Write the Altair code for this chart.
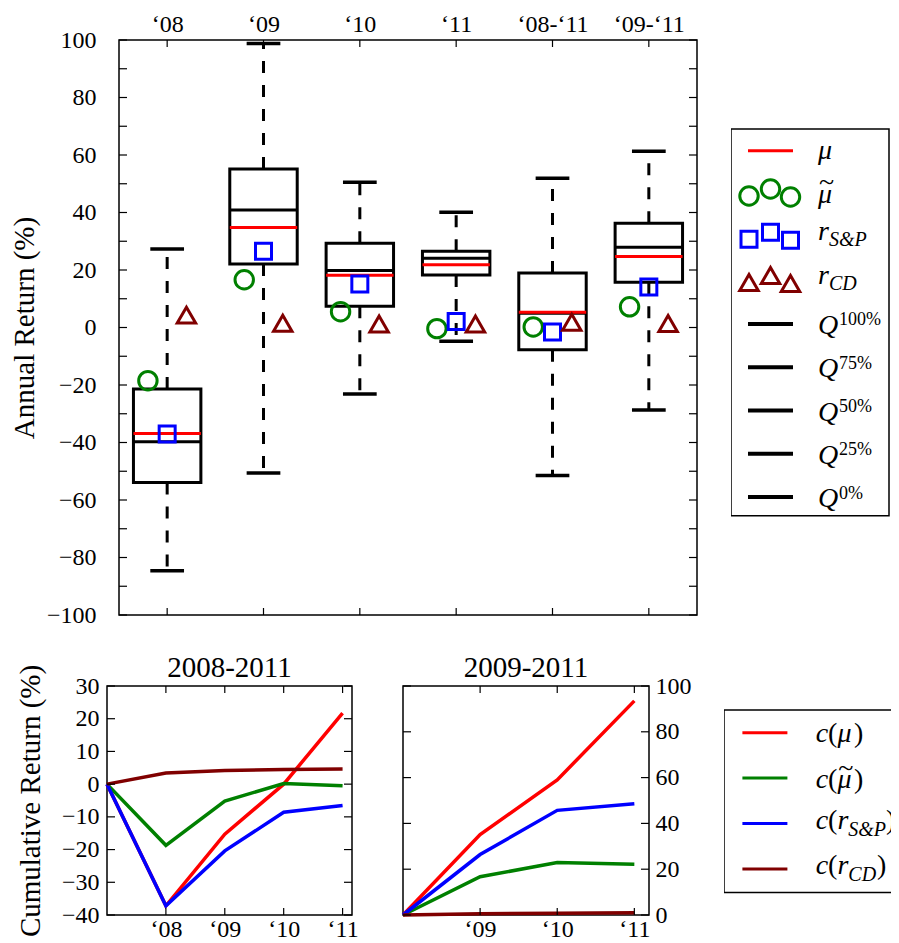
import json
import altair as alt
import pandas as pd

FONT = "Liberation Serif"
TICK_FS = 24
TITLE_FS = 29
LEG_FS = 28
SUB_FS = 20
SUP_FS = 18
RED, GREEN, BLUE, BROWN = "#ff0000", "#008000", "#0000ff", "#800000"

# ---------------- data ----------------
periods = ["‘08", "‘09", "‘10", "‘11", "‘08-‘11", "‘09-‘11"]
q0 = [-84.6, -50.6, -23.1, -4.8, -51.5, -28.7]
q25 = [-53.9, 22.1, 7.4, 18.3, -7.7, 15.7]
q50 = [-39.7, 40.9, 19.8, 24.1, 5.0, 27.9]
q75 = [-21.4, 55.1, 29.3, 26.5, 19.0, 36.3]
q100 = [27.3, 98.8, 50.5, 40.1, 51.9, 61.3]
mean_ret = [-36.9, 34.8, 18.2, 21.8, 5.3, 24.7]
median_ret = [-18.5, 16.6, 5.5, -0.4, 0.2, 7.2]
sp_ret = [-37.0, 26.5, 15.1, 2.1, -1.6, 14.1]
cd_ret = [4.3, 1.5, 1.2, 1.2, 1.8, 1.4]

years_a = ["‘08", "‘09", "‘10", "‘11"]
cum_a_mu = [0, -37.2, -15.3, 0.0, 21.7]
cum_a_med = [0, -18.7, -5.2, 0.2, -0.5]
cum_a_sp = [0, -37.2, -20.4, -8.6, -6.5]
cum_a_cd = [0, 3.4, 4.2, 4.5, 4.6]

years_b = ["‘09", "‘10", "‘11"]
cum_b_mu = [0, 35.1, 59.0, 93.5]
cum_b_med = [0, 16.7, 22.9, 22.2]
cum_b_sp = [0, 26.4, 45.7, 48.6]
cum_b_cd = [0, 0.5, 0.8, 1.0]

# ---------------- main box plot ----------------
MAIN_W, MAIN_H = 590, 575
BOX_PX = 578                      # framed width of the box-plot axes
LEFT_PX = MAIN_W - BOX_PX         # view extends a little left of the frame
n = len(periods)
unit_px = BOX_PX / n
xdom = [0.5 - LEFT_PX / unit_px, n + 0.5]
ydom = [-100, 100]
BOX_W, CAP_W, MOFF = 0.7, 0.35, 0.2
pos = list(range(1, n + 1))

box_df = pd.DataFrame({
    "pos": pos, "q0": q0, "q25": q25, "q50": q50, "q75": q75, "q100": q100,
    "mean": mean_ret, "median": median_ret, "sp": sp_ret, "cd": cd_ret,
})
box_df["box_lo"] = box_df["pos"] - BOX_W / 2
box_df["box_hi"] = box_df["pos"] + BOX_W / 2
box_df["cap_lo"] = box_df["pos"] - CAP_W / 2
box_df["cap_hi"] = box_df["pos"] + CAP_W / 2
box_df["pos_l"] = box_df["pos"] - MOFF
box_df["pos_r"] = box_df["pos"] + MOFF

LBL = dict(labelFont=FONT, labelFontSize=TICK_FS, labelColor="black", labelOverlap=False,
           ticks=False, tickSize=0, domain=False, grid=False)

xs = alt.Scale(domain=xdom, nice=False, zero=False)
ys = alt.Scale(domain=ydom, nice=False, zero=False)
x_axis = alt.Axis(orient="top", values=pos,
                  labelExpr=json.dumps(periods, ensure_ascii=False) + "[datum.value - 1]",
                  labelPadding=4, title="", **LBL)
y_axis = alt.Axis(orient="left", values=list(range(-100, 101, 20)), labelPadding=11,
                  title="Annual Return (%)", titleFont=FONT, titleFontSize=TITLE_FS,
                  titleFontWeight="normal", titleColor="black", titlePadding=7, **LBL)


def MX(f):
    return alt.X(f"{f}:Q", scale=xs, axis=x_axis)


def MY(f):
    return alt.Y(f"{f}:Q", scale=ys, axis=y_axis)


frame_df = pd.DataFrame({"x0": [0.5], "x1": [n + 0.5], "y0": [ydom[0]], "y1": [ydom[1]]})
base = alt.Chart(box_df)
main_layers = [
    alt.Chart(frame_df).mark_rect(fillOpacity=0, stroke="black", strokeWidth=1.5).encode(
        x=MX("x0"), x2="x1", y=MY("y0"), y2="y1"),
    base.mark_rule(color="black", strokeWidth=3, strokeDash=[12, 12]).encode(
        x=MX("pos"), y=MY("q25"), y2="q0"),
    base.mark_rule(color="black", strokeWidth=3, strokeDash=[12, 12]).encode(
        x=MX("pos"), y=MY("q75"), y2="q100"),
    base.mark_rule(color="black", strokeWidth=3.5).encode(x=MX("cap_lo"), x2="cap_hi", y=MY("q0")),
    base.mark_rule(color="black", strokeWidth=3.5).encode(x=MX("cap_lo"), x2="cap_hi", y=MY("q100")),
    base.mark_rect(fillOpacity=0, stroke="black", strokeWidth=3).encode(
        x=MX("box_lo"), x2="box_hi", y=MY("q25"), y2="q75"),
    base.mark_rule(color="black", strokeWidth=3).encode(x=MX("box_lo"), x2="box_hi", y=MY("q50")),
    base.mark_rule(color=RED, strokeWidth=3).encode(x=MX("box_lo"), x2="box_hi", y=MY("mean")),
    base.mark_point(shape="circle", filled=False, size=340, strokeWidth=3, color=GREEN,
                    opacity=1).encode(x=MX("pos_l"), y=MY("median")),
    base.mark_point(shape="square", filled=False, size=256, strokeWidth=3, color=BLUE,
                    opacity=1).encode(x=MX("pos"), y=MY("sp")),
    base.mark_point(shape="triangle-up", filled=False, size=340, strokeWidth=3, color=BROWN,
                    opacity=1).encode(x=MX("pos_r"), y=MY("cd")),
]
ytick_df = pd.DataFrame({"v": list(range(-100, 101, 10))})
TL = 8
main_layers += [
    alt.Chart(ytick_df).mark_rule(color="black", strokeWidth=1.2).encode(
        x=alt.value(LEFT_PX), x2=alt.value(LEFT_PX + TL), y=MY("v")),
    alt.Chart(ytick_df).mark_rule(color="black", strokeWidth=1.2).encode(
        x=alt.value(MAIN_W - TL), x2=alt.value(MAIN_W), y=MY("v")),
    base.mark_rule(color="black", strokeWidth=1.2).encode(
        x=MX("pos"), y=alt.value(0), y2=alt.value(7)),
    base.mark_rule(color="black", strokeWidth=1.2).encode(
        x=MX("pos"), y=alt.value(MAIN_H - 7), y2=alt.value(MAIN_H)),
]
main = alt.layer(*main_layers).properties(width=MAIN_W, height=MAIN_H)


# ---------------- cumulative panels ----------------
SMALL_H = 229


def cum_panel(title, labels, series, ydom_, tick_vals, label_vals, y_orient, width, height,
              xmax, ytitle, label_pad, title_pad):
    xs_ = alt.Scale(domain=[0, xmax], nice=False, zero=False)
    ys_ = alt.Scale(domain=ydom_, nice=False, zero=False)
    xpos = list(range(1, len(labels) + 1))
    xa = alt.Axis(orient="bottom", values=xpos,
                  labelExpr=json.dumps(labels, ensure_ascii=False) + "[datum.value - 1]",
                  labelPadding=2, title="", **LBL)
    ya_kw = dict(orient=y_orient, values=label_vals, labelPadding=label_pad, title=ytitle, **LBL)
    if ytitle:
        ya_kw.update(titleFont=FONT, titleFontSize=TITLE_FS, titleFontWeight="normal",
                     titleColor="black", titlePadding=title_pad)
    ya = alt.Axis(**ya_kw)

    def X(f):
        return alt.X(f"{f}:Q", scale=xs_, axis=xa)

    def Y(f):
        return alt.Y(f"{f}:Q", scale=ys_, axis=ya)

    rows = []
    for name, _, vals in series:
        for i, v in enumerate(vals):
            rows.append({"series": name, "t": i, "v": v})
    df = pd.DataFrame(rows)
    fdf = pd.DataFrame({"x0": [0], "x1": [xmax], "y0": [ydom_[0]], "y1": [ydom_[1]]})
    layers = [alt.Chart(fdf).mark_rect(fillOpacity=0, stroke="black", strokeWidth=1.5).encode(
        x=X("x0"), x2="x1", y=Y("y0"), y2="y1")]
    for name, color, _ in series:
        layers.append(alt.Chart(df).transform_filter(alt.datum.series == name)
                      .mark_line(color=color, strokeWidth=3.5).encode(x=X("t"), y=Y("v")))
    tdf = pd.DataFrame({"v": tick_vals})
    xdf = pd.DataFrame({"t": xpos})
    layers += [
        alt.Chart(tdf).mark_rule(color="black", strokeWidth=1.2).encode(
            x=alt.value(0), x2=alt.value(TL), y=Y("v")),
        alt.Chart(tdf).mark_rule(color="black", strokeWidth=1.2).encode(
            x=alt.value(width - TL), x2=alt.value(width), y=Y("v")),
        alt.Chart(xdf).mark_rule(color="black", strokeWidth=1.2).encode(
            x=X("t"), y=alt.value(0), y2=alt.value(7)),
        alt.Chart(xdf).mark_rule(color="black", strokeWidth=1.2).encode(
            x=X("t"), y=alt.value(height - 7), y2=alt.value(height)),
        alt.Chart(pd.DataFrame({"title": [title]})).mark_text(
            font=FONT, fontSize=TITLE_FS, baseline="alphabetic", align="center",
            color="black").encode(x=alt.value(width / 2), y=alt.value(-9), text="title:N"),
    ]
    return alt.layer(*layers).properties(width=width, height=height)


series_names = ["mu", "med", "sp", "cd"]
series_colors = [RED, GREEN, BLUE, BROWN]
small_a = cum_panel("2008-2011", years_a,
                    list(zip(series_names, series_colors, [cum_a_mu, cum_a_med, cum_a_sp, cum_a_cd])),
                    [-40, 30], list(range(-40, 31, 10)), list(range(-40, 31, 10)), "left",
                    245, SMALL_H, 4.16, "Cumulative Return (%)", 8, 16)
small_b = cum_panel("2009-2011", years_b,
                    list(zip(series_names, series_colors, [cum_b_mu, cum_b_med, cum_b_sp, cum_b_cd])),
                    [0, 100], list(range(0, 101, 20)), list(range(0, 101, 20)), "right",
                    246, SMALL_H, 3.19, "", 6, 0)


# ---------------- legends ----------------
def legend_panel(width, height, row_px, first_px, box_w, box_rows, lines, markers, pieces):
    lx = alt.Scale(domain=[0, width], nice=False, zero=False)
    ly = alt.Scale(domain=[-first_px / row_px, (height - first_px) / row_px],
                   nice=False, zero=False, reverse=True)
    X = lambda f: alt.X(f"{f}:Q", scale=lx, axis=None)
    Y = lambda f: alt.Y(f"{f}:Q", scale=ly, axis=None)
    bdf = pd.DataFrame({"x0": [0], "x1": [box_w], "y0": [box_rows[0]], "y1": [box_rows[1]]})
    layers = [alt.Chart(bdf).mark_rect(fill="white", stroke="black", strokeWidth=1.5,
                                       clip=True).encode(x=X("x0"), x2="x1", y=Y("y0"), y2="y1")]
    ldf = pd.DataFrame(lines)
    layers.append(alt.Chart(ldf).mark_rule().encode(
        x=X("x0"), x2="x1", y=Y("row"),
        color=alt.Color("color:N", scale=None),
        strokeWidth=alt.StrokeWidth("sw:Q", scale=None)))
    if markers:
        mdf = pd.DataFrame(markers)
        mdf["y"] = mdf["row"] + mdf["stag"] / row_px
        layers.append(alt.Chart(mdf).mark_point(filled=False, strokeWidth=3, opacity=1).encode(
            x=X("x"), y=Y("y"), color=alt.Color("color:N", scale=None),
            shape=alt.Shape("shape:N", scale=None), size=alt.Size("size:Q", scale=None)))
    pdf = pd.DataFrame(pieces)
    pdf["y"] = pdf["row"] + pdf["shift"] / row_px
    for style in ["italic", "normal"]:
        layers.append(alt.Chart(pdf).transform_filter(alt.datum.style == style).mark_text(
            align="left", baseline="alphabetic", font=FONT, fontStyle=style, color="black",
            clip=True).encode(x=X("x"), y=Y("y"), text="text:N",
                              size=alt.Size("fs:Q", scale=None)))
    return alt.layer(*layers).properties(width=width, height=height)


# legend 1 (box plot)
L1_ROW, L1_FIRST = 43.3, 110.7
l1_lines = [{"row": 0, "x0": 17, "x1": 62, "color": RED, "sw": 3}] + [
    {"row": r, "x0": 17, "x1": 62, "color": "black", "sw": 4} for r in range(4, 9)]
l1_markers = []
for r, shape, color, size in [(1, "circle", GREEN, 340), (2, "square", BLUE, 256),
                              (3, "triangle-up", BROWN, 340)]:
    for xm, st in zip([18, 39.5, 59.5], [2, -5, 3]):
        l1_markers.append({"row": r, "x": xm, "stag": st, "shape": shape, "color": color,
                           "size": size})
TX = 87
l1_pieces = [
    {"row": 0, "x": TX, "shift": 8, "text": "μ", "style": "italic", "fs": LEG_FS},
    {"row": 1, "x": TX, "shift": 9, "text": "μ", "style": "italic", "fs": LEG_FS},
    {"row": 1, "x": TX + 1, "shift": -3, "text": "~", "style": "normal", "fs": LEG_FS},
    {"row": 2, "x": TX, "shift": 3, "text": "r", "style": "italic", "fs": LEG_FS},
    {"row": 2, "x": TX + 11, "shift": 9, "text": "S&P", "style": "italic", "fs": SUB_FS},
    {"row": 3, "x": TX, "shift": 3, "text": "r", "style": "italic", "fs": LEG_FS},
    {"row": 3, "x": TX + 11, "shift": 9, "text": "CD", "style": "italic", "fs": SUB_FS},
]
for r, sup in zip(range(4, 9), ["100%", "75%", "50%", "25%", "0%"]):
    l1_pieces.append({"row": r, "x": TX, "shift": 10, "text": "Q", "style": "italic", "fs": LEG_FS})
    l1_pieces.append({"row": r, "x": TX + 21, "shift": 1.5, "text": sup, "style": "normal",
                      "fs": SUP_FS})
legend1 = legend_panel(159, MAIN_H, L1_ROW, L1_FIRST, 158, [-0.5, 8.43],
                       l1_lines, l1_markers, l1_pieces)

# legend 2 (cumulative)
L2_ROW, L2_FIRST = 45.4, 46.7
l2_lines = [{"row": i, "x0": 18.4, "x1": 63.4, "color": c, "sw": 3}
            for i, c in enumerate(series_colors)]
CX = 91.7
l2_pieces = []
for r, sym, sub, close_x in [(0, "μ", "", 130), (1, "μ", "", 130), (2, "r", "S&P", 162),
                             (3, "r", "CD", 153)]:
    sh = 9.5 if sym == "μ" else 5.5
    l2_pieces += [
        {"row": r, "x": CX, "shift": sh, "text": "c", "style": "italic", "fs": LEG_FS},
        {"row": r, "x": CX + 12.4, "shift": sh, "text": "(", "style": "normal", "fs": LEG_FS},
        {"row": r, "x": CX + 21.7, "shift": sh, "text": sym, "style": "italic", "fs": LEG_FS},
        {"row": r, "x": close_x, "shift": sh, "text": ")", "style": "normal", "fs": LEG_FS},
    ]
    if sub:
        l2_pieces.append({"row": r, "x": CX + 32.6, "shift": sh + 6.5, "text": sub,
                          "style": "italic", "fs": SUB_FS})
l2_pieces.append({"row": 1, "x": CX + 22.5, "shift": -1.5, "text": "~", "style": "normal",
                  "fs": LEG_FS})
legend2 = legend_panel(167, SMALL_H, L2_ROW, L2_FIRST, 200, [-0.5, 3.52], l2_lines, [],
                       l2_pieces)

# ---------------- layout ----------------
top = alt.hconcat(main, legend1, spacing=33)
bottom = alt.hconcat(small_a, alt.hconcat(small_b, legend2, spacing=33), spacing=37)
chart = alt.vconcat(top, bottom, spacing=27).properties(
    padding={"left": 2, "top": 4, "right": 0, "bottom": 0}
).configure(font=FONT).configure_view(strokeWidth=0)

chart.save("out.html", embed_options={"renderer": "svg", "actions": False})
